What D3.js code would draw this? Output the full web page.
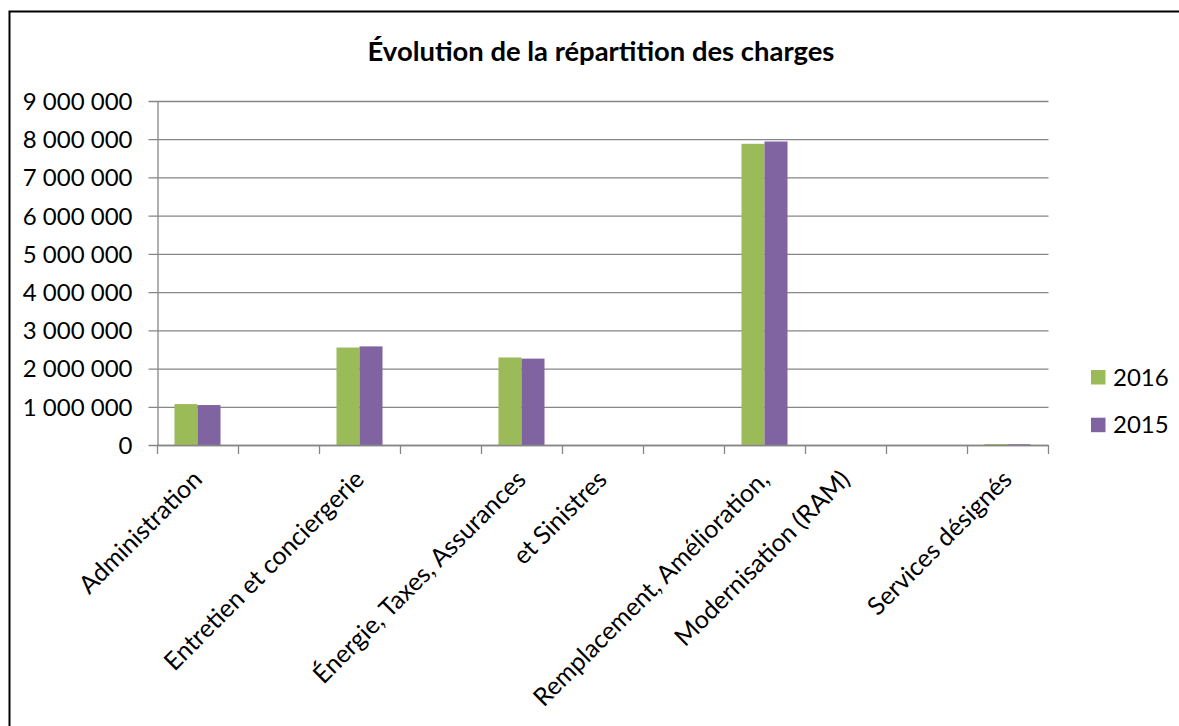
<!DOCTYPE html>
<html>
<head>
<meta charset="utf-8">
<title>Évolution de la répartition des charges</title>
<script src="https://cdn.jsdelivr.net/npm/d3@7/dist/d3.min.js"></script>
<style>
  body { margin: 0; background: #fff; }
  text { font-family: Lato, "Open Sans", sans-serif; fill: #000; }
</style>
</head>
<body>
<svg id="chart" width="1179" height="726"></svg>
<script>
// categories (blank entries are the unlabelled rows of the sheet)
var categories = ['Administration', '', 'Entretien et conciergerie', '', 'Énergie, Taxes, Assurances',
  'et Sinistres', '', 'Remplacement, Amélioration,', 'Modernisation (RAM)', '', 'Services désignés'];
var series = ['2016', '2015'];
var values2016 = [1070000, 0, 2550000, 0, 2290000, 0, 0, 7880000, 0, 0, 25000];
var values2015 = [1045000, 0, 2580000, 0, 2260000, 0, 0, 7940000, 0, 0, 20000];
var yTicks = [0, 1000000, 2000000, 3000000, 4000000, 5000000, 6000000, 7000000, 8000000, 9000000];
var colors = ['#9bbb59', '#8064a2'];

var fr = d3.formatLocale({ decimal: ',', thousands: ' ', grouping: [3], currency: ['', ' €'] });
var fmt = fr.format(',d');

var svg = d3.select('#chart');

svg.append('rect')
  .attr('x', 0).attr('y', 0).attr('width', 1179).attr('height', 726)
  .attr('fill', '#fff');

// outer frame (runs off the right and bottom edges)
svg.append('rect')
  .attr('x', 9.5).attr('y', 11.5).attr('width', 1200).attr('height', 760)
  .attr('fill', 'none').attr('stroke', '#000').attr('stroke-width', 2);

var x = d3.scaleBand().domain(d3.range(categories.length)).range([157, 1048]);
var xs = d3.scaleBand().domain(series).range([0, x.bandwidth()]).paddingOuter(0.76);
var y = d3.scaleLinear().domain([0, 9000000]).range([445, 101]);

// title, sized so it spans about 467px like the original
var title = svg.append('text')
  .attr('x', 601).attr('y', 61)
  .attr('text-anchor', 'middle')
  .style('font-size', '24px').style('font-weight', 'bold')
  .text('Évolution de la répartition des charges');
var tl = title.node().getComputedTextLength();
if (tl > 0) title.style('font-size', Math.min(28, Math.max(20, 24 * 467 / tl)) + 'px');

// gridlines + y labels
var yAxis = svg.append('g')
  .attr('transform', 'translate(157.5,0)')
  .call(d3.axisLeft(y).tickValues(yTicks).tickFormat(fmt)
    .tickSizeInner(-(1048 - 157)).tickSizeOuter(0).tickPadding(25));
yAxis.select('.domain').attr('stroke', '#868686').attr('stroke-width', 1.3);
yAxis.selectAll('.tick line').attr('x1', -9).attr('stroke', '#868686').attr('stroke-width', 1.3);
yAxis.selectAll('.tick text')
  .attr('dy', '0.35em')
  .style('font-size', '24px').style('font-family', 'Lato, sans-serif').attr('fill', '#000');

// bars
var rows = categories.map((c, i) => ({ i: i, v: [values2016[i], values2015[i]] }));
svg.append('g').selectAll('g')
  .data(rows)
  .join('g')
  .attr('transform', d => `translate(${x(d.i)},0)`)
  .selectAll('rect')
  .data(d => series.map((s, k) => ({ s: s, k: k, v: d.v[k] })).filter(e => e.v > 0))
  .join('rect')
  .attr('x', d => xs(d.s))
  .attr('width', xs.bandwidth())
  .attr('y', d => y(d.v))
  .attr('height', d => y(0) - y(d.v))
  .attr('fill', d => colors[d.k]);

// x axis: ticks sit between categories
var bounds = d3.range(categories.length).map(i => x(i)).concat([x.range()[1]]);
var xg = svg.append('g');
xg.append('line')
  .attr('x1', 157).attr('x2', 1048.5).attr('y1', y(0) + 0.5).attr('y2', y(0) + 0.5)
  .attr('stroke', '#868686').attr('stroke-width', 1.3);
xg.selectAll('line.tk')
  .data(bounds)
  .join('line')
  .attr('class', 'tk')
  .attr('x1', d => d + 0.5).attr('x2', d => d + 0.5)
  .attr('y1', y(0)).attr('y2', y(0) + 9)
  .attr('stroke', '#868686').attr('stroke-width', 1.3);

xg.selectAll('text')
  .data(categories.map((c, i) => ({ c: c, i: i })).filter(d => d.c !== ''))
  .join('text')
  .attr('text-anchor', 'end')
  .attr('transform', d => `translate(${x(d.i) + x.bandwidth() / 2 + 6},481) rotate(-45)`)
  .style('font-size', '25px')
  .text(d => d.c);

// legend
var legend = svg.append('g').selectAll('g')
  .data(series)
  .join('g')
  .attr('transform', (d, k) => `translate(1091,${370 + k * 47.7})`);
legend.append('rect')
  .attr('width', 14.5).attr('height', 14.5)
  .attr('fill', (d, k) => colors[k]);
legend.append('text')
  .attr('x', 22).attr('y', 15.5)
  .style('font-size', '24px')
  .text(d => d);
</script>
</body>
</html>
